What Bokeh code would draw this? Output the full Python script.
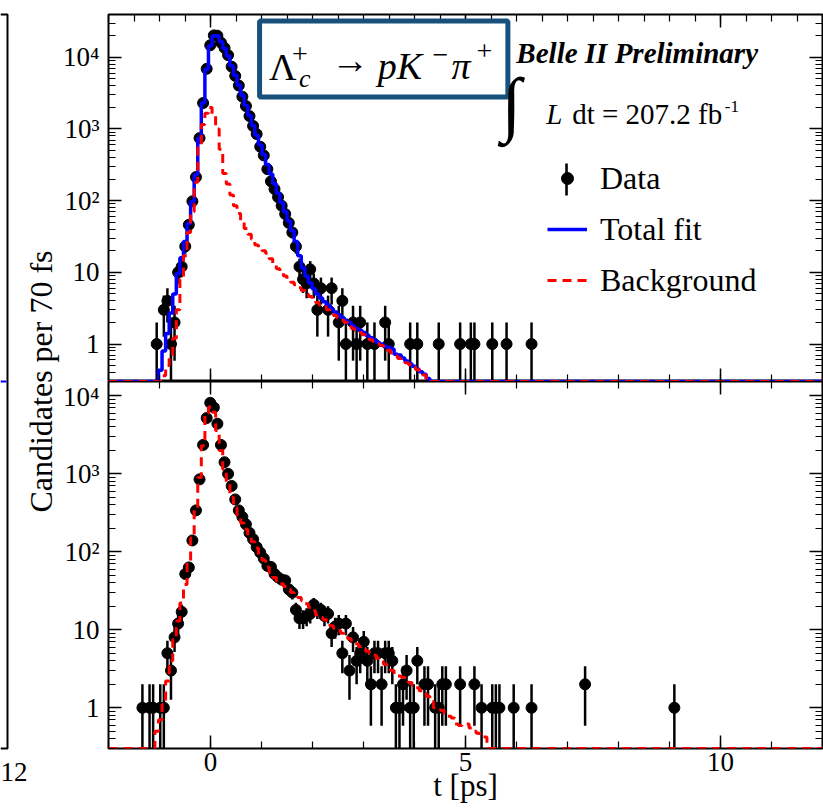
import numpy as np
from bokeh.plotting import figure
from bokeh.layouts import row, column
from bokeh.models import (Range1d, FixedTicker, CustomJSTickFormatter, LinearAxis, LogAxis,
                          Label, BoxAnnotation, Legend, LegendItem)
from bokeh.core.properties import value
from bokeh.embed import file_html
from bokeh.resources import INLINE

# Decay-time histograms: 70 fs bins spanning -2 ps to 12 ps
T_LO, T_HI, BIN_W = -2.0, 12.0, 0.07
N_BINS = 200

# Signal region, filled bins: bin index and number of candidates
sig_bin = [13, 15, 16, 17, 18, 19, 20, 21, 22, 23, 24, 25, 26, 27, 28, 29, 30, 31, 32, 33,
           34, 35, 36, 37, 38, 39, 40, 41, 42, 43, 44, 45, 46, 47, 48, 49, 50, 51, 52, 53,
           54, 55, 56, 57, 58, 59, 61, 62, 64, 65, 66, 68, 69, 70, 72, 74, 77, 78, 84, 86,
           92, 98, 101, 102, 107, 111, 118]
sig_n = [1, 3, 4, 1, 2, 10, 12, 23, 46, 98, 213, 745, 2300, 6900, 14700, 20200, 20000, 16000,
         13500, 10700, 7400, 5500, 4030, 2820, 2090, 1510, 1100, 850, 565, 427, 275, 186, 145,
         112, 85, 65, 49, 36, 23, 12, 8, 7, 11, 7, 3, 6, 3, 6, 2, 4, 1, 2, 1, 2, 1, 1, 2, 1,
         1, 1, 1, 1, 1, 1, 1, 1, 1]

# Signal region fit (total and background), one value per bin from the first index
sig_fit_first = 14
sig_fit = [0.43, 0.8, 1.4, 2.7, 5.0, 9.6, 16, 27, 48, 97,
           230, 740, 2300, 6800, 14500, 19800, 19900, 16400, 13200, 10400,
           7600, 5600, 4100, 2950, 2130, 1540, 1120, 820, 600, 440,
           320, 235, 172, 127, 94, 70, 52, 38, 27, 17,
           11.5, 8.8, 7.1, 5.9, 5.0, 4.4, 3.9, 3.5, 3.1, 2.8,
           2.55, 2.35, 2.15, 2.0, 1.8, 1.65, 1.55, 1.45, 1.33, 1.22,
           1.15, 1.05, 1.0, 0.92, 0.9, 0.85, 0.72, 0.7, 0.64, 0.58,
           0.53, 0.49, 0.45, 0.41, 0.38, 0.33]
sig_bkg_first = 15
sig_bkg = [0.36, 0.5, 0.65, 1.2, 3.0, 8.0, 17, 36, 70, 180,
           550, 1150, 1650, 2000, 1600, 1000, 520, 240, 170, 120,
           85, 66, 52, 41, 34, 29, 24, 21.5, 20, 18.5,
           15.5, 13, 11.2, 9.8, 8.9, 8.1, 7.3, 6.7, 6.1, 5.6,
           5.0, 4.6, 4.2, 3.8, 3.5, 3.3, 3.0, 2.7, 2.5, 2.3,
           2.15, 2.0, 1.85, 1.65, 1.55, 1.45, 1.35, 1.25, 1.15, 1.08,
           1.0, 0.95, 0.88, 0.82, 0.75, 0.68, 0.63, 0.6, 0.55, 0.52,
           0.48, 0.44, 0.4, 0.37]

# Sideband, filled bins
sb_bin = [9, 11, 12, 14, 15, 16, 17, 18, 19, 20, 21, 22, 23, 24, 25, 26, 27, 28, 29, 30,
          31, 32, 33, 34, 35, 36, 37, 38, 39, 40, 41, 42, 43, 44, 45, 46, 47, 48, 49, 50,
          51, 52, 53, 54, 55, 56, 57, 58, 59, 60, 61, 62, 63, 64, 65, 66, 67, 68, 69, 70,
          71, 72, 73, 74, 75, 76, 77, 78, 79, 80, 81, 82, 83, 84, 85, 86, 88, 89, 91, 92,
          93, 94, 98, 102, 104, 107, 108, 109, 113, 118, 133, 158]
sb_n = [1, 1, 1, 1, 1, 5, 3, 8, 12, 17, 52, 63, 140, 340, 850, 2350, 5200, 8150, 7100, 4400,
        2350, 1410, 1000, 700, 470, 340, 280, 225, 175, 145, 115, 98, 82, 66, 64, 52, 47, 44, 43, 33,
        30, 18, 14, 14, 15, 16, 21, 18, 18, 15, 16, 9, 11, 12, 5, 12, 3, 8, 4, 5,
        7, 4, 2, 5, 5, 2, 5, 5, 4, 1, 1, 2, 3, 1, 1, 4, 2, 2, 1, 1,
        2, 2, 2, 2, 1, 1, 1, 1, 1, 1, 2, 1]
sb_bkg_first = 13
sb_bkg = [0.5, 0.7, 1.1, 2.2, 4.0, 7.5, 13, 22, 38, 75,
          150, 350, 900, 2300, 6000, 7200, 6200, 3600, 2000, 1150,
          750, 500, 370, 290, 235, 195, 160, 135, 112, 92,
          78, 64, 54, 47, 42, 39, 36, 33, 30, 28,
          26, 23.5, 21.5, 19.5, 17.5, 15.5, 14.5, 13.5, 12.5, 11.3,
          10.5, 9.8, 9.0, 8.3, 7.7, 7.1, 6.6, 6.1, 5.7, 5.3,
          5.0, 4.7, 4.3, 4.0, 3.6, 3.3, 3.0, 2.7, 2.55, 2.45,
          2.3, 2.1, 1.95, 1.8, 1.65, 1.55, 1.4, 1.2, 1.0, 0.95,
          0.92, 0.85, 0.78, 0.74, 0.62, 0.59, 0.6, 0.62, 0.55, 0.5,
          0.47, 0.44, 0.42]

y_ticks = [1, 10, 100, 1000, 10000]
y_tick_text = ["1", "10", "10²", "10³", "10⁴"]
x_ticks = [0, 5, 10]
x_tick_text = ["0", "5", "10"]

# ---------------------------------------------------------------- layout
FONT = "Liberation Serif"
STRIP_W = 60
MAIN_W = 823 - STRIP_W
BORDER_L = 46
FRAME_W = 716
BORDER_R = MAIN_W - BORDER_L - FRAME_W
FRAME_H = 367
TOP_PAD = 14
BOTTOM_PAD = 62
Y_MIN = 0.3
TOP_YMAX = 39500.0
BOT_YMAX = 15300.0
MID_EM = 0.3375          # em-box centre above the baseline for Liberation Serif

edges = T_LO + BIN_W * np.arange(N_BINS + 1)
x_minor = list(np.arange(T_LO, T_HI + 0.01, 1.0))
x_minor_fine = list(np.arange(T_LO, T_HI + 0.01, 0.5))
y_minor = [m * 10.0 ** e for e in range(-1, 5) for m in range(2, 10)]

FRAME_LEFT_PX = STRIP_W + BORDER_L
PX_PER_PS = FRAME_W / (T_HI - T_LO)


def t_at(px):
    return T_LO + (px - FRAME_LEFT_PX) / PX_PER_PS


def top_at(py):
    span = np.log10(TOP_YMAX / Y_MIN)
    return 10 ** (np.log10(TOP_YMAX) - (py - TOP_PAD) / FRAME_H * span)


def tick_style(ax, labelled):
    ax.axis_line_color = None
    ax.major_tick_in, ax.major_tick_out = 13, 0
    ax.minor_tick_in, ax.minor_tick_out = 7, 0
    ax.major_tick_line_color = "black"
    ax.minor_tick_line_color = "black"
    ax.major_tick_line_width = 1.5
    ax.minor_tick_line_width = 1.2
    if labelled:
        ax.major_label_text_font = FONT
        ax.major_label_text_font_size = "27px"
        ax.major_label_text_color = "black"
    else:
        ax.formatter = CustomJSTickFormatter(code="return ''")
        ax.major_label_text_font_size = "0px"
        ax.major_label_standoff = 0


def panel(height, y_max, border_top, border_bottom, x_labels, top_minor):
    p = figure(width=MAIN_W, height=height,
               x_range=Range1d(T_LO, T_HI), y_range=Range1d(Y_MIN, y_max),
               y_axis_type="log", output_backend="svg", toolbar_location=None,
               min_border_left=BORDER_L, min_border_right=BORDER_R,
               min_border_top=border_top, min_border_bottom=border_bottom)
    p.add_layout(LinearAxis(), "above")
    p.add_layout(LogAxis(), "right")
    p.grid.visible = False
    p.outline_line_color = "black"
    p.outline_line_width = 2
    p.background_fill_color = "white"
    p.border_fill_color = "white"
    p.below[0].ticker = FixedTicker(ticks=x_ticks, minor_ticks=x_minor)
    p.above[0].ticker = FixedTicker(ticks=x_ticks, minor_ticks=top_minor)
    for ax in p.left + p.right:
        ax.ticker = FixedTicker(ticks=y_ticks, minor_ticks=y_minor)
    left_ax = p.left[0]
    tick_style(left_ax, True)
    left_ax.major_label_overrides = dict(zip(y_ticks, y_tick_text))
    left_ax.major_label_standoff = 9
    tick_style(p.right[0], False)
    tick_style(p.above[0], False)
    bottom_ax = p.below[0]
    if x_labels:
        tick_style(bottom_ax, True)
        bottom_ax.major_label_overrides = dict(zip(x_ticks, x_tick_text))
        bottom_ax.major_label_standoff = 4
        bottom_ax.axis_label = "t [ps]"
        bottom_ax.axis_label_text_font = FONT
        bottom_ax.axis_label_text_font_size = "31px"
        bottom_ax.axis_label_text_font_style = "normal"
        bottom_ax.axis_label_text_color = "black"
        bottom_ax.axis_label_standoff = -6
    else:
        tick_style(bottom_ax, False)
    return p


def draw_data(p, bins, counts):
    b = np.asarray(bins, float)
    n = np.asarray(counts, float)
    x = T_LO + BIN_W * (b + 0.5)
    err = np.sqrt(n)
    p.segment(x0=x, y0=np.maximum(n - err, 1e-3), x1=x, y1=n + err,
              line_color="black", line_width=2.5)
    return p.scatter(x=x, y=n, size=11, marker="circle",
                     fill_color="black", line_color="black")


def draw_hist(p, first, vals, **style):
    full = np.zeros(N_BINS)
    full[first:first + len(vals)] = vals
    y = np.maximum(full, Y_MIN)
    return p.step(x=edges, y=np.append(y, y[-1]), mode="after", **style)


def put(p, px, base_py, text, size, style="normal"):
    """Text whose baseline sits at page row base_py, starting at page column px."""
    p.add_layout(Label(x=t_at(px), y=top_at(base_py - MID_EM * size), text=text,
                       text_font=FONT, text_font_size=f"{size}px", text_font_style=style,
                       text_align="left", text_baseline="middle", text_color="black"))


BLUE = dict(line_color="#0000ff", line_width=3.5)
RED = dict(line_color="#ff0000", line_width=3, line_dash="9 6")

# ---------------------------------------------------------------- signal panel
top = panel(TOP_PAD + FRAME_H, TOP_YMAX, TOP_PAD, 0, False, x_minor_fine)
r_data = draw_data(top, sig_bin, sig_n)
r_fit = draw_hist(top, sig_fit_first, sig_fit, **BLUE)
r_bkg = draw_hist(top, sig_bkg_first, sig_bkg, **RED)

# decay-mode box
top.add_layout(BoxAnnotation(left=t_at(257.5), right=t_at(506.5),
                             top=top_at(20.5), bottom=top_at(96.5),
                             fill_color="white", fill_alpha=1.0,
                             line_color="#18507c", line_alpha=1.0, line_width=5))
put(top, 267, 79, "Λ", 38)
put(top, 290, 63, "+", 28)
put(top, 297, 87, "c", 26, style="italic")
put(top, 329, 72, "→", 38)
put(top, 376, 78, "pK", 38, style="italic")
put(top, 431, 64, "−", 28)
put(top, 450, 78, "π", 38, style="italic")
put(top, 475, 60, "+", 28)

put(top, 515, 62, "Belle II Preliminary", 29, style="bold italic")
put(top, 500, 128, "∫", 72, style="bold")
put(top, 545, 123, "L", 29, style="italic")
put(top, 571, 123, "dt = 207.2 fb", 29)
put(top, 724, 112, "-1", 17)

# vertical error-bar stroke behind the "Data" legend marker
top.add_layout(BoxAnnotation(left=t_at(564.0), right=t_at(566.6),
                             top=top_at(163), bottom=top_at(195),
                             fill_color="black", fill_alpha=1.0, line_alpha=0))

legend = Legend(items=[LegendItem(label="Data", renderers=[r_data]),
                       LegendItem(label="Total fit", renderers=[r_fit]),
                       LegendItem(label="Background", renderers=[r_bkg])],
                location=(439, 81), orientation="vertical",
                label_text_font=FONT, label_text_font_size="32px", label_text_color="black",
                glyph_width=40, glyph_height=30, label_height=40,
                label_standoff=13, spacing=11, padding=0, margin=0,
                border_line_color=None, background_fill_alpha=0)
top.add_layout(legend)

# ---------------------------------------------------------------- sideband panel
bottom = panel(FRAME_H + BOTTOM_PAD, BOT_YMAX, 0, BOTTOM_PAD, True, x_minor)
draw_data(bottom, sb_bin, sb_n)
draw_hist(bottom, sb_bkg_first, sb_bkg, **RED)

# ---------------------------------------------------------------- left strip
PAGE_H = TOP_PAD + 2 * FRAME_H + BOTTOM_PAD
strip = figure(width=STRIP_W, height=PAGE_H,
               x_range=Range1d(0, STRIP_W), y_range=Range1d(PAGE_H, 0),
               x_axis_type=None, y_axis_type=None, output_backend="svg",
               toolbar_location=None, min_border=0)
strip.grid.visible = False
strip.outline_line_color = None
strip.line(x=[0, 7, 7, 0], y=[TOP_PAD, TOP_PAD, TOP_PAD + 2 * FRAME_H, TOP_PAD + 2 * FRAME_H],
           line_color="black", line_width=2)
strip.line(x=[0, 6], y=[TOP_PAD + FRAME_H, TOP_PAD + FRAME_H], line_color="#0000ff", line_width=2)
strip.text(x=[27], y=[771], text=["12"], text_align="right", text_baseline="middle",
           text_font=value(FONT), text_font_size="27px", text_color="black")
strip.add_layout(Label(x=40, y=TOP_PAD + FRAME_H, text="Candidates per 70 fs", angle=np.pi / 2,
                       text_align="center", text_baseline="middle",
                       text_font=FONT, text_font_size="32px", text_color="black"))

layout = row(strip, column(top, bottom))
open("out.html", "w").write(file_html(layout, INLINE))
